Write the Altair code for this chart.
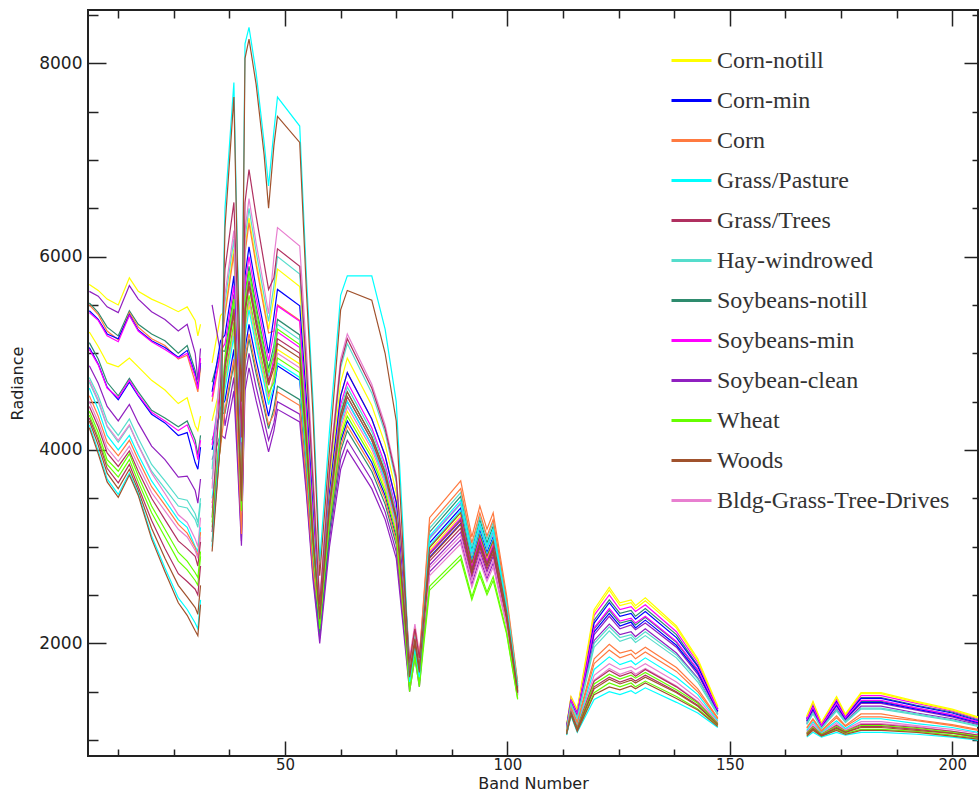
import altair as alt
import pandas as pd

CLASSES = ["Corn-notill", "Corn-min", "Corn", "Grass/Pasture", "Grass/Trees", "Hay-windrowed",
           "Soybeans-notill", "Soybeans-min", "Soybean-clean", "Wheat", "Woods", "Bldg-Grass-Tree-Drives"]
CLASS_COLORS = ["#FFFF00", "#0000FF", "#FF7A40", "#00FFFF", "#B03060", "#55DDCC",
                "#2E8B6E", "#FF00FF", "#9020C0", "#66FF00", "#A0522D", "#E87FD0"]

SERIES_CLASS = ["Corn-notill", "Soybean-clean", "Soybeans-notill", "Corn", "Corn-min", "Soybeans-min",
                "Corn-notill", "Soybeans-notill", "Corn-min", "Soybeans-min", "Soybean-clean", "Hay-windrowed",
                "Hay-windrowed", "Bldg-Grass-Tree-Drives", "Grass/Pasture", "Corn", "Bldg-Grass-Tree-Drives",
                "Grass/Trees", "Wheat", "Wheat", "Grass/Trees", "Woods", "Grass/Pasture", "Woods"]

SEG1_BANDS = [6, 8, 10, 12.5, 15, 17, 20, 23, 26, 28, 29.8, 30.4, 31]
SEG1 = [
    [5710, 5650, 5560, 5500, 5780, 5640, 5560, 5500, 5430, 5480, 5340, 5180, 5300],
    [5640, 5590, 5480, 5420, 5700, 5560, 5430, 5350, 5230, 5300, 5000, 4720, 5050],
    [5520, 5420, 5270, 5180, 5440, 5300, 5200, 5130, 5000, 5080, 4820, 4640, 4900],
    [5500, 5400, 5230, 5140, 5420, 5270, 5150, 5080, 4940, 4980, 4700, 4600, 4850],
    [5440, 5350, 5200, 5150, 5400, 5240, 5130, 5060, 4960, 5030, 4780, 4650, 4900],
    [5420, 5340, 5180, 5120, 5390, 5230, 5120, 5040, 4950, 5000, 4760, 4630, 4950],
    [5220, 5070, 4900, 4860, 4950, 4860, 4720, 4620, 4480, 4540, 4250, 4200, 4350],
    [5110, 4940, 4700, 4560, 4740, 4600, 4410, 4330, 4240, 4300, 4100, 3950, 4150],
    [5060, 4890, 4650, 4520, 4700, 4560, 4370, 4280, 4150, 4180, 3870, 3800, 4030],
    [5040, 4880, 4640, 4540, 4720, 4570, 4390, 4300, 4200, 4260, 4050, 3900, 4100],
    [4870, 4690, 4450, 4300, 4470, 4280, 4040, 3900, 3720, 3730, 3580, 3450, 3700],
    [4750, 4560, 4300, 4150, 4320, 4120, 3850, 3680, 3500, 3480, 3340, 3250, 3500],
    [4700, 4500, 4240, 4080, 4250, 4050, 3780, 3600, 3420, 3400, 3280, 3200, 3450],
    [4720, 4520, 4250, 4100, 4260, 4050, 3760, 3550, 3330, 3250, 3080, 3000, 3300],
    [4640, 4420, 4150, 4000, 4150, 3950, 3680, 3480, 3280, 3200, 3000, 2950, 3200],
    [4560, 4350, 4080, 3940, 4100, 3900, 3620, 3430, 3230, 3140, 2990, 2900, 3150],
    [4500, 4290, 4020, 3880, 4040, 3840, 3560, 3370, 3180, 3100, 2960, 2880, 3100],
    [4450, 4240, 3970, 3830, 3990, 3780, 3500, 3280, 3060, 2980, 2900, 2800, 3050],
    [4400, 4180, 3900, 3780, 3960, 3730, 3420, 3180, 2940, 2850, 2730, 2680, 2950],
    [4360, 4130, 3850, 3720, 3900, 3670, 3350, 3100, 2850, 2760, 2650, 2600, 2900],
    [4330, 4100, 3810, 3660, 3850, 3620, 3270, 2980, 2720, 2640, 2560, 2500, 2800],
    [4300, 4050, 3760, 3600, 3800, 3580, 3190, 2880, 2600, 2480, 2370, 2300, 2600],
    [4260, 3990, 3700, 3540, 3760, 3550, 3110, 2780, 2470, 2350, 2210, 2150, 2450],
    [4230, 3960, 3670, 3510, 3740, 3530, 3080, 2740, 2420, 2290, 2130, 2080, 2400],
]

SEG2_BANDS = [33.6, 35.5, 36.5, 38.5, 39.3, 40.2, 41, 41.9, 43.5, 45.3, 46.3, 47.5, 48.3, 53.3, 54.8, 56.3,
              57.8, 60, 62.5, 64, 69.5, 72.5, 75, 76.5, 78, 79.2, 80.2, 82.5, 89.5, 92, 93.8, 95.4, 96.8,
              99.8, 102.3]
SEG2 = [
    [4900, 5390, 5440, 6080, 5120, 3990, 6080, 6400, 5950, 5500, 5250, 5580, 5870, 5690, 4700, 3520, 2350, 3650, 4700, 4950, 4460, 4060, 3560, 2720, 1750, 2100, 1800, 3000, 3360, 2840, 3130, 2910, 3070, 2340, 1530],
    [5500, 5000, 4250, 4750, 4000, 3060, 4750, 5000, 4650, 4300, 4100, 4280, 4500, 4370, 3600, 2700, 2050, 3080, 3900, 4100, 3690, 3360, 2950, 2260, 1550, 1900, 1600, 2810, 3150, 2680, 2950, 2740, 2900, 2240, 1480],
    [4700, 5030, 5020, 5610, 4720, 3640, 5610, 5900, 5490, 5070, 4840, 5080, 5350, 5190, 4280, 3210, 2250, 3430, 4370, 4600, 4140, 3770, 3310, 2530, 1700, 2050, 1750, 3150, 3520, 2970, 3280, 3040, 3210, 2420, 1560],
    [4500, 5000, 5400, 6030, 5080, 3740, 6030, 6350, 5910, 5460, 5210, 5230, 5500, 5340, 4400, 3300, 2300, 3550, 4560, 4800, 4320, 3940, 3460, 2640, 1800, 2150, 1850, 3300, 3680, 3100, 3420, 3180, 3350, 2500, 1600],
    [4600, 5130, 5190, 5800, 4880, 3850, 5800, 6100, 5670, 5250, 5000, 5380, 5660, 5490, 4530, 3400, 2300, 3550, 4560, 4800, 4320, 3940, 3460, 2640, 1650, 2000, 1700, 3040, 3400, 2870, 3170, 2940, 3100, 2360, 1540],
    [4550, 5020, 5100, 5700, 4800, 3730, 5700, 6000, 5580, 5160, 4920, 5220, 5490, 5330, 4390, 3290, 2250, 3480, 4470, 4700, 4230, 3850, 3380, 2590, 1700, 2050, 1750, 3090, 3450, 2920, 3220, 2990, 3150, 2390, 1550],
    [4300, 4670, 4680, 5230, 4400, 3430, 5230, 5500, 5120, 4730, 4510, 4790, 5040, 4890, 4030, 3020, 2200, 3300, 4180, 4400, 3960, 3610, 3170, 2420, 1600, 1950, 1650, 2960, 3320, 2810, 3100, 2870, 3040, 2320, 1520],
    [4100, 4380, 4380, 4890, 4120, 3170, 4890, 5150, 4790, 4430, 4220, 4430, 4660, 4520, 3730, 2800, 2100, 3150, 3990, 4200, 3780, 3440, 3020, 2310, 1550, 1900, 1600, 2930, 3280, 2780, 3060, 2840, 3000, 2300, 1510],
    [4000, 4440, 4510, 5040, 4240, 3310, 5040, 5300, 4930, 4560, 4350, 4630, 4870, 4720, 3900, 2920, 2150, 3230, 4090, 4300, 3870, 3530, 3100, 2370, 1600, 1950, 1650, 2890, 3240, 2740, 3020, 2810, 2970, 2280, 1500],
    [4050, 4640, 4850, 5420, 4560, 3550, 5420, 5700, 5300, 4900, 4670, 4960, 5220, 5060, 4180, 3130, 2200, 3350, 4280, 4500, 4050, 3690, 3240, 2480, 1650, 2000, 1700, 2940, 3300, 2790, 3080, 2850, 3020, 2310, 1510],
    [3900, 4160, 4120, 4610, 3880, 3010, 4610, 4850, 4510, 4170, 3980, 4200, 4420, 4290, 3540, 2650, 2000, 3000, 3800, 4000, 3600, 3280, 2880, 2200, 1500, 1850, 1550, 2740, 3070, 2610, 2880, 2670, 2830, 2200, 1470],
    [3800, 4900, 5530, 6180, 5200, 4080, 6180, 6500, 6050, 5590, 5330, 5700, 6000, 5820, 4800, 3600, 2380, 3740, 4850, 5100, 4590, 4180, 3670, 2810, 1750, 2100, 1800, 3190, 3560, 3000, 3310, 3080, 3250, 2440, 1570],
    [3700, 4500, 4930, 5510, 4640, 3600, 5510, 5800, 5390, 4990, 4760, 5040, 5300, 5140, 4240, 3180, 2300, 3480, 4420, 4650, 4190, 3810, 3350, 2560, 1700, 2050, 1750, 3080, 3440, 2900, 3200, 2980, 3140, 2380, 1550],
    [3600, 4950, 5610, 6270, 5280, 4280, 6270, 6600, 6140, 5680, 5410, 5990, 6300, 6110, 5040, 3780, 2450, 3830, 4940, 5200, 4680, 4260, 3740, 2860, 1850, 2200, 1900, 2780, 3110, 2650, 2920, 2700, 2860, 2220, 1470],
    [3500, 4200, 4630, 5180, 4360, 3330, 5180, 5450, 5070, 4690, 4470, 4660, 4900, 4750, 3920, 2940, 2300, 3400, 4280, 4500, 4050, 3690, 3240, 2480, 1600, 1950, 1650, 3010, 3370, 2850, 3140, 2920, 3080, 2350, 1530],
    [3450, 4030, 4420, 4940, 4160, 3130, 4940, 5200, 4840, 4470, 4260, 4370, 4600, 4460, 3680, 2760, 2250, 3250, 4040, 4250, 3830, 3490, 3060, 2340, 1800, 2150, 1850, 3230, 3600, 3040, 3350, 3110, 3280, 2460, 1580],
    [3400, 4200, 4720, 5270, 4440, 3400, 5270, 5550, 5160, 4770, 4550, 4750, 5000, 4850, 4000, 3000, 2250, 3350, 4230, 4450, 4010, 3650, 3200, 2450, 1700, 2050, 1750, 2700, 3030, 2580, 2840, 2640, 2790, 2180, 1460],
    [3300, 4690, 5870, 6560, 5520, 4130, 6560, 6900, 6420, 5930, 5660, 5780, 6080, 5900, 4860, 3650, 2400, 3780, 4890, 5150, 4640, 4220, 3710, 2830, 1800, 2150, 1850, 2920, 3270, 2770, 3050, 2830, 2990, 2290, 1500],
    [3250, 4250, 4970, 5560, 4680, 3570, 5560, 5850, 5440, 5030, 4800, 4990, 5250, 5090, 4200, 3150, 2200, 3380, 4320, 4550, 4100, 3730, 3280, 2500, 1550, 1900, 1600, 2590, 2910, 2480, 2740, 2530, 2690, 2120, 1430],
    [3200, 4080, 4760, 5320, 4480, 3370, 5320, 5600, 5210, 4820, 4590, 4700, 4950, 4800, 3960, 2970, 2150, 3250, 4130, 4350, 3920, 3570, 3130, 2390, 1500, 1850, 1550, 2550, 2870, 2450, 2700, 2500, 2650, 2100, 1420],
    [3150, 4150, 4890, 5460, 4600, 3500, 5460, 5750, 5350, 4950, 4720, 4890, 5150, 5000, 4120, 3090, 2250, 3400, 4320, 4550, 4100, 3730, 3280, 2500, 1650, 2000, 1700, 2850, 3190, 2710, 2990, 2770, 2930, 2260, 1490],
    [3050, 4080, 4850, 5420, 4560, 3470, 5420, 5700, 5300, 4900, 4670, 4850, 5100, 4950, 4080, 3060, 2300, 3450, 4370, 4600, 4140, 3770, 3310, 2530, 1700, 2050, 1750, 2880, 3230, 2730, 3010, 2800, 2960, 2270, 1490],
    [3000, 4200, 6500, 7800, 6000, 4600, 8200, 8370, 7900, 7180, 6730, 7300, 7650, 7350, 5800, 4500, 2850, 4200, 5600, 5800, 5800, 5250, 4500, 3200, 1600, 1950, 1650, 3110, 3480, 2940, 3240, 3010, 3180, 2400, 1560],
    [2950, 4100, 6300, 7650, 5900, 4500, 8050, 8250, 7780, 7050, 6500, 7150, 7450, 7180, 5650, 4350, 2700, 4000, 5450, 5650, 5550, 5000, 4300, 3000, 1650, 2000, 1700, 2990, 3350, 2830, 3120, 2900, 3060, 2330, 1520],
]

SEG3_BANDS = [113.3, 114.3, 115.7, 119.5, 122.9, 125.3, 127.8, 128.8, 131, 138, 142.8, 147.3]
SEG3 = [
    [1150, 1450, 1320, 2350, 2580, 2420, 2450, 2390, 2470, 2180, 1840, 1350],
    [1120, 1390, 1250, 2090, 2280, 2150, 2190, 2140, 2210, 1960, 1680, 1290],
    [1140, 1430, 1290, 2240, 2450, 2310, 2340, 2280, 2360, 2090, 1770, 1320],
    [1100, 1340, 1190, 1840, 1990, 1900, 1930, 1890, 1960, 1750, 1530, 1230],
    [1140, 1420, 1280, 2210, 2420, 2280, 2310, 2250, 2330, 2060, 1760, 1320],
    [1140, 1440, 1300, 2290, 2500, 2350, 2380, 2330, 2400, 2120, 1800, 1330],
    [1150, 1440, 1310, 2320, 2550, 2390, 2420, 2360, 2440, 2160, 1820, 1340],
    [1130, 1410, 1270, 2150, 2340, 2210, 2240, 2190, 2270, 2010, 1720, 1300],
    [1130, 1400, 1260, 2120, 2310, 2180, 2220, 2160, 2240, 1980, 1700, 1300],
    [1130, 1410, 1270, 2160, 2360, 2230, 2260, 2210, 2280, 2020, 1730, 1310],
    [1120, 1380, 1240, 2030, 2200, 2090, 2120, 2070, 2150, 1900, 1640, 1270],
    [1110, 1370, 1230, 2000, 2170, 2060, 2090, 2040, 2120, 1880, 1630, 1270],
    [1110, 1370, 1220, 1960, 2130, 2020, 2060, 2010, 2080, 1850, 1600, 1260],
    [1080, 1300, 1150, 1670, 1790, 1730, 1760, 1730, 1790, 1600, 1430, 1190],
    [1080, 1320, 1160, 1730, 1860, 1780, 1820, 1780, 1850, 1650, 1470, 1200],
    [1090, 1330, 1180, 1790, 1930, 1850, 1890, 1840, 1910, 1710, 1500, 1220],
    [1070, 1290, 1130, 1620, 1740, 1680, 1720, 1680, 1740, 1560, 1400, 1180],
    [1070, 1290, 1130, 1610, 1720, 1660, 1700, 1660, 1730, 1550, 1390, 1170],
    [1070, 1280, 1120, 1580, 1680, 1630, 1670, 1640, 1700, 1520, 1380, 1170],
    [1060, 1270, 1100, 1490, 1590, 1550, 1590, 1550, 1610, 1450, 1320, 1150],
    [1060, 1280, 1110, 1550, 1650, 1600, 1640, 1610, 1670, 1500, 1360, 1160],
    [1060, 1270, 1110, 1530, 1630, 1580, 1620, 1590, 1650, 1490, 1350, 1160],
    [1050, 1250, 1080, 1420, 1500, 1470, 1510, 1480, 1540, 1390, 1280, 1130],
    [1060, 1260, 1090, 1470, 1550, 1520, 1560, 1530, 1590, 1430, 1310, 1140],
]

SEG4_BANDS = [167.3, 168.7, 170.6, 174, 176, 179.5, 184, 192, 200, 205.8]
SEG4 = [
    [1250, 1400, 1180, 1450, 1270, 1490, 1490, 1400, 1320, 1240],
    [1190, 1310, 1140, 1350, 1210, 1380, 1380, 1310, 1240, 1170],
    [1220, 1360, 1160, 1410, 1240, 1440, 1440, 1360, 1290, 1210],
    [1130, 1220, 1100, 1250, 1150, 1270, 1270, 1210, 1160, 1110],
    [1220, 1350, 1160, 1400, 1240, 1430, 1430, 1350, 1280, 1200],
    [1230, 1380, 1170, 1420, 1250, 1460, 1460, 1380, 1300, 1220],
    [1240, 1390, 1180, 1440, 1260, 1480, 1480, 1390, 1310, 1230],
    [1200, 1330, 1150, 1370, 1220, 1400, 1400, 1330, 1260, 1190],
    [1200, 1320, 1140, 1360, 1220, 1390, 1390, 1320, 1250, 1180],
    [1210, 1340, 1150, 1380, 1230, 1410, 1410, 1330, 1260, 1190],
    [1170, 1290, 1130, 1320, 1190, 1350, 1350, 1280, 1220, 1160],
    [1170, 1280, 1120, 1310, 1190, 1330, 1330, 1270, 1210, 1150],
    [1160, 1270, 1120, 1300, 1180, 1320, 1320, 1260, 1200, 1140],
    [1090, 1170, 1070, 1180, 1110, 1190, 1190, 1150, 1110, 1070],
    [1100, 1190, 1080, 1200, 1120, 1220, 1220, 1170, 1130, 1080],
    [1120, 1210, 1090, 1230, 1140, 1240, 1240, 1200, 1150, 1100],
    [1080, 1150, 1060, 1160, 1100, 1170, 1170, 1140, 1090, 1050],
    [1070, 1140, 1060, 1150, 1090, 1160, 1160, 1130, 1090, 1050],
    [1070, 1130, 1060, 1140, 1090, 1150, 1150, 1120, 1080, 1040],
    [1050, 1110, 1040, 1110, 1070, 1110, 1110, 1090, 1050, 1020],
    [1060, 1120, 1050, 1130, 1080, 1140, 1140, 1110, 1070, 1030],
    [1060, 1120, 1050, 1120, 1080, 1130, 1130, 1100, 1070, 1030],
    [1030, 1080, 1030, 1080, 1050, 1080, 1080, 1060, 1030, 1000],
    [1040, 1100, 1040, 1100, 1060, 1100, 1100, 1080, 1040, 1010],
]

X_MAJOR = [50, 100, 150, 200]
X_MINOR = [12.5, 25, 37.5, 62.5, 75, 87.5, 112.5, 125, 137.5, 162.5, 175, 187.5]
Y_MAJOR = [2000, 4000, 6000, 8000]
Y_MINOR = [1000, 1500, 2500, 3000, 3500, 4500, 5000, 5500, 6500, 7000, 7500, 8500]

rows = []
for seg_id, (bands, table) in enumerate([(SEG1_BANDS, SEG1), (SEG2_BANDS, SEG2),
                                          (SEG3_BANDS, SEG3), (SEG4_BANDS, SEG4)]):
    for i, vals in enumerate(table):
        assert len(vals) == len(bands), (seg_id, i, len(vals))
        for b, v in zip(bands, vals):
            rows.append({"band": b, "radiance": v, "cls": SERIES_CLASS[i], "line": f"{i:02d}-{seg_id}"})
df = pd.DataFrame(rows)

x_scale = alt.Scale(domain=[5.7, 205.8], nice=False, zero=False)
y_scale = alt.Scale(domain=[835, 8550], nice=False, zero=False)
FONT = "DejaVu Sans"
INK = "#222222"

lines = alt.Chart(df).mark_line(strokeWidth=1.2).encode(
    x=alt.X("band:Q", scale=x_scale,
            axis=alt.Axis(orient="bottom", values=X_MAJOR, format="d", title="Band Number",
                          ticks=False, domain=False, grid=False, labelPadding=1,
                          labelFont=FONT, labelFontSize=15, labelColor=INK,
                          titleFont=FONT, titleFontSize=16, titleFontWeight="normal",
                          titleColor=INK, titlePadding=3)),
    y=alt.Y("radiance:Q", scale=y_scale,
            axis=alt.Axis(orient="left", values=Y_MAJOR, format="d", title="Radiance",
                          ticks=False, domain=False, grid=False, labelPadding=6,
                          labelFont=FONT, labelFontSize=17, labelColor=INK,
                          titleFont=FONT, titleFontSize=16, titleFontWeight="normal",
                          titleColor=INK, titlePadding=13)),
    color=alt.Color("cls:N", scale=alt.Scale(domain=CLASSES, range=CLASS_COLORS),
                    legend=alt.Legend(title=None, orient="none", legendX=582, legendY=29,
                                      symbolType="stroke", symbolSize=1600, symbolStrokeWidth=3,
                                      labelFont="Liberation Serif", labelFontSize=24,
                                      labelColor="#333333", labelOffset=4, rowPadding=6,
                                      padding=0, labelLimit=400)),
    detail="line:N",
)


def tick_axis(orient, values, size):
    return alt.Axis(orient=orient, values=values, tickSize=size, offset=-size, labels=False,
                    domain=False, grid=False, title=None, ticks=True, tickColor=INK, tickWidth=1.5)


def tick_layer(xa, ya):
    return alt.Chart(df).mark_line(opacity=0).encode(
        x=alt.X("band:Q", scale=x_scale, axis=xa),
        y=alt.Y("radiance:Q", scale=y_scale, axis=ya),
        detail="line:N",
    )


layers = [
    lines,
    tick_layer(tick_axis("bottom", X_MAJOR, 15), tick_axis("left", Y_MAJOR, 18)),
    tick_layer(tick_axis("bottom", X_MINOR, 7), tick_axis("left", Y_MINOR, 10)),
    tick_layer(tick_axis("top", X_MAJOR, 16), tick_axis("right", Y_MAJOR, 14)),
    tick_layer(tick_axis("top", X_MINOR, 8), tick_axis("right", Y_MINOR, 6)),
]

chart = alt.layer(*layers).resolve_axis(x="independent", y="independent").properties(
    width=890, height=746,
    padding={"left": 88, "top": 10, "right": 1, "bottom": 39},
    autosize=alt.AutoSizeParams(type="none"),
).configure(background="white").configure_view(stroke=INK, strokeWidth=2)

chart.save("out.html", embed_options={"renderer": "svg", "actions": False})
